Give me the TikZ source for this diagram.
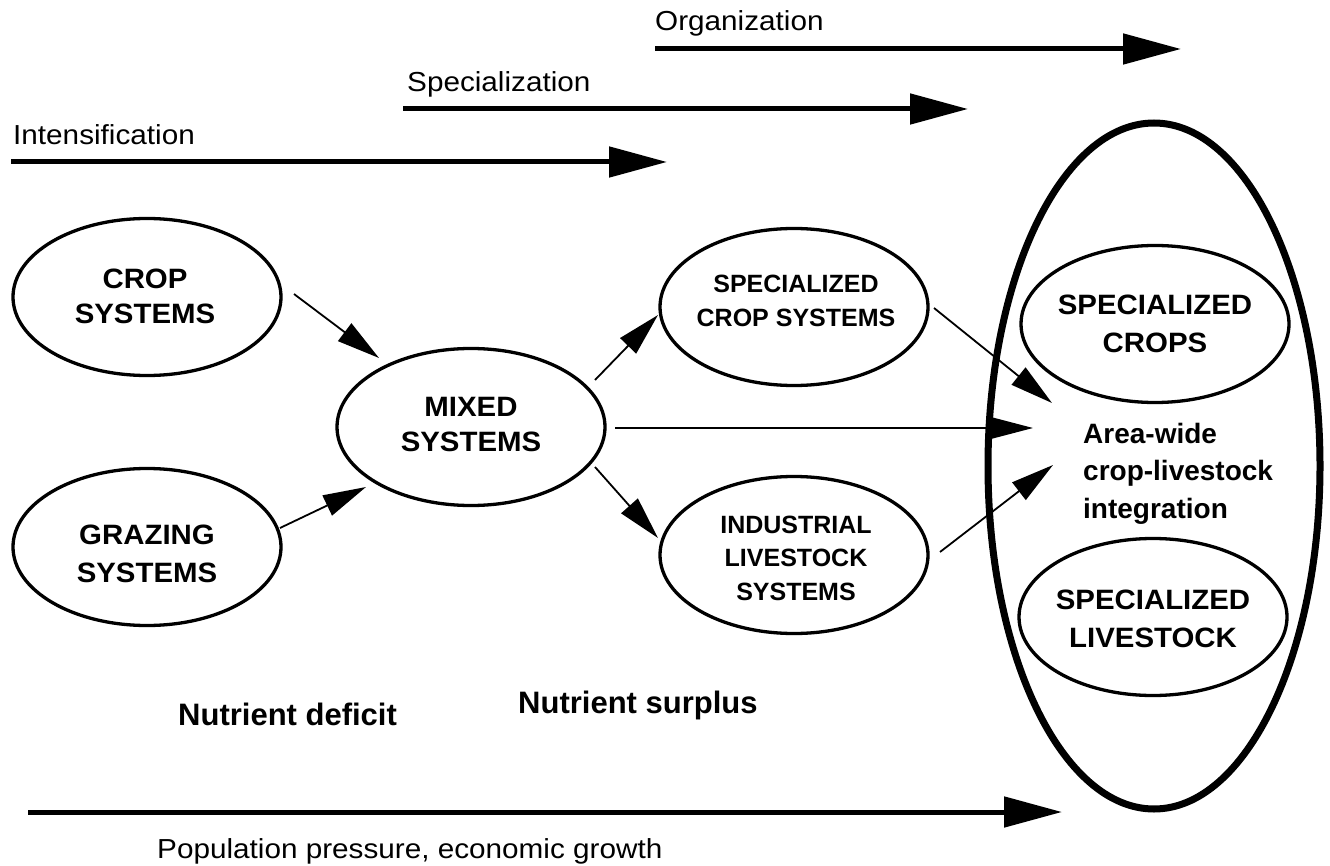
\documentclass[tikz,border=0pt]{standalone}
\usepackage{fontspec}
\setmainfont{Liberation Sans}
\newfontfamily\labfont{Liberation Sans}[FakeStretch=1.08]
\newfontfamily\widebold{Liberation Sans}[FakeStretch=1.05]
\usetikzlibrary{shapes.geometric,arrows.meta}
\begin{document}
\begin{tikzpicture}[x=1pt,y=-1pt,
  ell/.style={draw,ellipse,line width=3.3pt,minimum width=268pt,minimum height=157pt,inner sep=0pt,outer sep=0pt},
  bigell/.style={draw,ellipse,line width=7pt,minimum width=332pt,minimum height=686pt,inner sep=0pt,outer sep=0pt},
  elltext/.style={align=center,inner sep=0pt,font=\widebold\bfseries\fontsize{28}{35}\selectfont},
  smalltext/.style={align=center,inner sep=0pt,font=\bfseries\fontsize{25}{33.5}\selectfont},
  toplab/.style={anchor=base west,inner sep=0pt,font=\labfont\fontsize{27.5}{33}\selectfont},
  nutlab/.style={anchor=base west,inner sep=0pt,font=\bfseries\fontsize{31}{37}\selectfont},
  thinarr/.style={line width=1.8pt,-{Triangle[length=43pt,width=22pt]}},
  bigarr/.style={line width=5pt,-{Triangle[length=58pt,width=30pt]}}
]
\useasboundingbox (0,0) rectangle (1330,866);

% top process arrows
\node[toplab] (org) at (655,31) {Organization};
\node[toplab] (spec) at (407,92) {Specialization};
\node[toplab] (int) at (13,145) {Intensification};
\coordinate (o0) at (655,49);
\coordinate (o1) at (1181,49);
\coordinate (s0) at (403,109);
\coordinate (s1) at (968,109);
\coordinate (i0) at (11,162);
\coordinate (i1) at (667,162);
\draw[bigarr] (o0) -- (o1);
\draw[bigarr] (s0) -- (s1);
\draw[bigarr] (i0) -- (i1);

% system ellipses
\node[ell] (crop) at (147,297) {};
\node[elltext] (croptxt) at (145,296) {CROP\\SYSTEMS};
\node[ell] (graz) at (147,547) {};
\node[elltext] (graztxt) at (147,554) {GRAZING\\[3pt]SYSTEMS};
\node[ell] (mixed) at (471,427) {};
\node[elltext] (mixedtxt) at (471,425) {MIXED\\SYSTEMS};
\node[ell] (scs) at (794,307) {};
\node[smalltext] (scstxt) at (796,301) {SPECIALIZED\\CROP SYSTEMS};
\node[ell] (ils) at (794,555) {};
\node[smalltext] (ilstxt) at (796,558) {INDUSTRIAL\\LIVESTOCK\\SYSTEMS};

% area-wide integration
\node[bigell] (big) at (1154,466) {};
\node[ell] (scr) at (1155,324) {};
\node[elltext,font=\widebold\bfseries\fontsize{28}{38}\selectfont] (scrtxt) at (1155,324) {SPECIALIZED\\CROPS};
\node[ell] (slv) at (1153,617) {};
\node[elltext,font=\widebold\bfseries\fontsize{28}{38}\selectfont] (slvtxt) at (1153,619) {SPECIALIZED\\LIVESTOCK};
\node[anchor=north west,align=left,inner sep=0pt,font=\bfseries\fontsize{28}{37.5}\selectfont] (area) at (1083,422.6) {Area-wide\\crop-livestock\\integration};

% connectors
\draw[thinarr] ([shift={(147,-3)}]crop.center) -- ([shift={(-92,-69)}]mixed.center);
\draw[thinarr] ([shift={(133,-19)}]graz.center) -- ([shift={(-105,60)}]mixed.center);
\draw[thinarr] ([shift={(124,-47)}]mixed.center) -- ([shift={(-136,8)}]scs.center);
\draw[thinarr] ([shift={(124,40)}]mixed.center) -- ([shift={(-136,-17)}]ils.center);
\draw[thinarr] ([shift={(144,1)}]mixed.center) -- ([shift={(-121,-38)}]big.center);
\draw[thinarr] ([shift={(140,1)}]scs.center) -- ([shift={(-102,-63)}]big.center);
\draw[thinarr] ([shift={(146,-3)}]ils.center) -- ([shift={(-101,-1)}]big.center);

% labels
\node[nutlab] (def) at (178,725) {Nutrient deficit};
\node[nutlab] (sur) at (518,713) {Nutrient surplus};

% bottom arrow
\coordinate (p0) at (28,812);
\coordinate (p1) at (1062,812);
\draw[bigarr] (p0) -- (p1);
\node[toplab] (pop) at (157,858) {Population pressure, economic growth};
\end{tikzpicture}
\end{document}
